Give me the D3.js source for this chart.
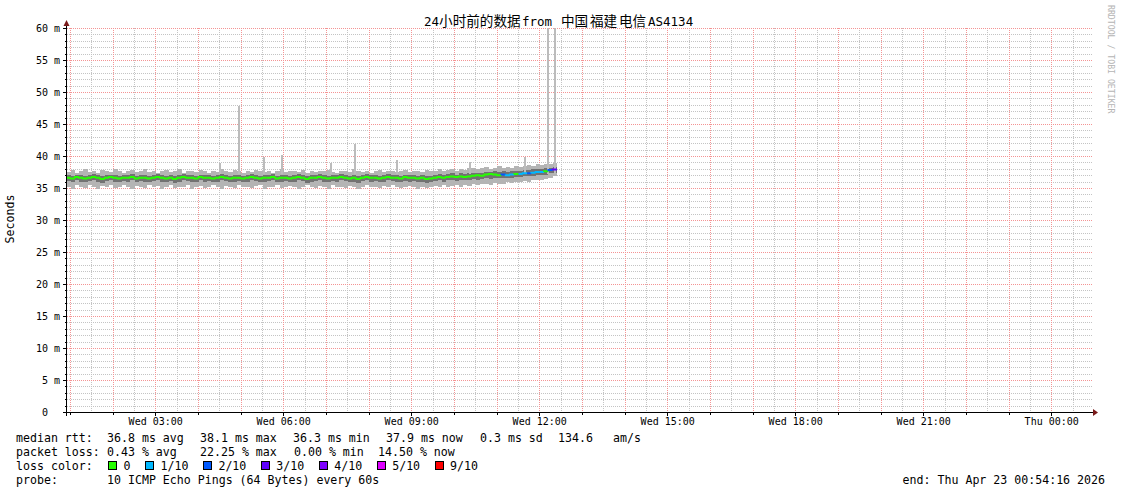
<!DOCTYPE html>
<html><head><meta charset="utf-8">
<script src="https://cdn.jsdelivr.net/npm/d3@7"></script>
<style>body{margin:0;background:#fff}svg{display:block}text{white-space:pre}</style>
</head><body><svg id="c" width="1121" height="494"></svg>
<script>
// ---------- data ----------
const titleParts = ["24小时前的数据", "from", "中国", "福建", "电信", "AS4134"];
const stepMinutes = 6;
const median = [
36.6,36.5,36.7,36.6,36.5,36.6,36.7,36.6,36.4,36.6,36.7,36.6,36.5,36.6,36.6,36.7,36.5,36.6,36.6,36.5,
36.6,36.7,36.6,36.5,36.6,36.4,36.6,36.7,36.6,36.6,36.5,36.7,36.6,36.6,36.5,36.6,36.7,36.6,36.5,36.6,
36.6,36.5,36.6,36.7,36.6,36.5,36.6,36.6,36.7,36.5,36.6,36.6,36.5,36.6,36.7,36.6,36.4,36.6,36.6,36.7,
36.6,36.5,36.6,36.6,36.7,36.6,36.5,36.6,36.4,36.6,36.7,36.6,36.6,36.5,36.6,36.7,36.6,36.6,36.5,36.7,
36.6,36.6,36.5,36.6,36.4,36.5,36.6,36.7,36.6,36.7,36.8,36.7,36.8,36.7,36.8,36.9,37.0,36.9,37.1,37.2,
37.1,37.0,37.1,37.0,37.1,37.2,37.2,37.3,37.3,37.4,37.5,37.5,37.6,37.8,37.9];
const pingLo = [
35.2,34.9,35.4,35.1,35.0,35.5,35.2,34.9,35.3,35.1,35.4,35.0,35.2,35.5,35.1,34.9,35.3,35.2,35.0,35.4,
35.1,35.3,34.9,35.2,35.5,35.0,35.2,35.1,35.4,34.9,35.2,35.3,35.0,35.2,35.4,35.1,34.9,35.3,35.2,35.0,
35.4,35.1,35.2,35.0,35.3,35.5,34.9,35.2,35.1,35.4,35.0,35.2,35.3,35.1,34.9,35.2,35.4,35.1,35.0,35.3,
35.2,34.9,35.4,35.1,35.2,35.0,35.3,35.1,34.9,35.2,35.4,35.1,35.2,35.0,35.3,35.1,35.4,35.2,35.0,35.1,
35.3,35.2,34.9,35.1,35.0,35.2,35.3,35.1,35.4,35.2,35.3,35.5,35.2,35.4,35.3,35.6,35.4,35.6,35.7,35.5,
35.8,35.6,35.7,35.9,35.8,36.0,35.9,36.1,36.0,36.2,36.3,36.2,36.4,36.6,36.8];
const pingHi = [
37.5,37.8,37.4,37.6,37.9,37.5,37.7,37.4,37.8,37.6,37.5,37.9,37.6,37.4,37.7,37.8,37.5,37.6,37.9,37.5,
37.7,37.4,37.6,37.8,37.5,37.6,37.9,37.4,37.6,37.7,37.5,37.8,37.6,37.4,37.7,37.5,37.9,37.6,37.5,37.8,
37.6,37.4,37.7,37.5,37.8,37.6,37.5,37.7,37.4,37.6,37.9,37.5,37.6,37.7,37.5,37.8,37.4,37.6,37.5,37.7,
37.6,37.8,37.5,37.4,37.7,37.6,37.5,37.9,37.6,37.5,37.7,37.4,37.6,37.8,37.5,37.6,37.7,37.5,37.6,37.8,
37.5,37.7,37.6,37.5,37.8,37.6,37.7,37.9,37.6,37.8,37.9,37.7,38.0,37.8,38.1,38.2,37.9,38.1,38.3,38.0,
38.2,38.4,38.1,38.3,38.2,38.5,38.3,38.4,38.6,38.5,38.7,38.6,38.8,38.7,38.9];
const coreLo = [
36.1,35.9,36.2,36.0,35.9,36.1,36.2,36.0,35.8,36.1,36.2,36.0,35.9,36.1,36.0,36.2,35.9,36.1,36.0,35.9,
36.1,36.2,36.0,35.9,36.1,35.8,36.0,36.2,36.1,36.0,35.9,36.2,36.0,36.1,35.9,36.0,36.2,36.1,35.9,36.0,
36.1,35.9,36.0,36.2,36.1,35.9,36.0,36.1,36.2,35.9,36.0,36.1,35.9,36.0,36.2,36.1,35.8,36.0,36.1,36.2,
36.0,35.9,36.1,36.0,36.2,36.1,35.9,36.0,35.8,36.1,36.2,36.0,36.1,35.9,36.0,36.2,36.1,36.0,35.9,36.1,
36.0,36.1,35.9,36.0,35.8,35.9,36.1,36.2,36.0,36.2,36.3,36.1,36.3,36.2,36.3,36.4,36.3,36.4,36.5,36.4,
36.6,36.5,36.6,36.5,36.6,36.7,36.7,36.8,36.8,36.9,37.0,37.0,37.1,37.3,37.4];
const coreHi = [
37.0,36.9,37.1,37.0,36.9,37.0,37.2,37.0,36.8,37.1,37.1,37.0,36.9,37.1,37.0,37.2,36.9,37.0,37.1,36.9,
37.0,37.2,37.0,36.9,37.1,36.8,37.0,37.2,37.0,37.1,36.9,37.1,37.0,37.1,36.9,37.0,37.2,37.0,36.9,37.1,
37.0,36.9,37.1,37.2,37.0,36.9,37.1,37.0,37.2,36.9,37.0,37.1,36.9,37.0,37.2,37.0,36.8,37.1,37.0,37.2,
37.0,36.9,37.1,37.0,37.2,37.1,36.9,37.0,36.8,37.1,37.2,37.0,37.1,36.9,37.0,37.2,37.1,37.0,36.9,37.1,
37.0,37.1,36.9,37.0,36.8,36.9,37.1,37.2,37.0,37.2,37.3,37.1,37.3,37.2,37.3,37.4,37.3,37.4,37.5,37.5,
37.6,37.5,37.6,37.5,37.6,37.7,37.7,37.8,37.8,37.9,38.0,38.0,38.1,38.2,38.3];
const lossTenths = [
0,0,0,0,0,0,0,0,0,0,0,0,0,0,0,0,0,0,0,0,
0,0,0,0,0,0,0,0,0,0,0,0,0,0,0,0,0,0,0,0,
0,0,0,0,0,0,0,0,0,0,0,0,0,0,0,0,0,0,0,0,
0,0,0,0,0,0,0,0,0,0,0,0,0,0,0,0,0,0,0,0,
0,0,0,0,0,0,0,0,0,0,0,0,0,0,0,0,0,0,0,0,
0,0,2,1,1,0,1,1,2,1,1,1,0,2,3];
const spikeMinutes = [215, 242, 277, 302, 372, 405, 464, 567, 644, 676, 686];
const spikeValues  = [38.9, 47.8, 39.9, 40.2, 38.9, 41.9, 39.4, 39.1, 39.9, 60, 60];
const yTickValues = [0,5,10,15,20,25,30,35,40,45,50,55,60];
const lossLabels = ["0","1/10","2/10","3/10","4/10","5/10","9/10"];
const lossKeys   = [0,1,2,3,4,5,9];
const lossColors = ["#26ff00","#00b8ff","#0059ff","#5e00ff","#7e00ff","#dd00ff","#ff0000"];
const rttStats  = ["36.8 ms avg","38.1 ms max","36.3 ms min","37.9 ms now","0.3 ms sd","134.6","am/s"];
const lossStats = ["0.43 % avg","22.25 % max","0.00 % min","14.50 % now"];
const probeText = "10 ICMP Echo Pings (64 Bytes) every 60s";
const endText = "end: Thu Apr 23 00:54:16 2026";

// ---------- drawing ----------
const W = 1121, H = 494;
const svg = d3.select("#c");
const MONO = "'DejaVu Sans Mono', monospace";
const start = new Date(Date.UTC(2026, 3, 22, 0, 54, 16));
const end = new Date(+start + 24 * 3600e3);
const x = d3.scaleUtc().domain([start, end]).range([66.3, 1090.3]);
const y = d3.scaleLinear().domain([0, 60]).range([412, 28]);
const tAt = m => new Date(+start + m * 60e3);
const colorOf = k => lossColors[lossKeys.indexOf(k)];
const px = v => Math.floor(v) + 0.5;

svg.append("rect").attr("width", W).attr("height", H).attr("fill", "#fff");

// grid
const grid = svg.append("g").attr("shape-rendering", "crispEdges");
d3.range(0, 61, 1).filter(v => v % 5 !== 0).forEach(v => {
  grid.append("line").attr("x1", 67).attr("x2", 1093).attr("y1", Math.round(y(v)) + 0.5).attr("y2", Math.round(y(v)) + 0.5)
    .attr("stroke", "#c4c4c4").attr("stroke-dasharray", "1,1");
});
x.ticks(d3.utcMinute.every(30)).filter(d => d.getUTCMinutes() === 30).forEach(d => {
  grid.append("line").attr("x1", px(x(d))).attr("x2", px(x(d))).attr("y1", 28).attr("y2", 412)
    .attr("stroke", "#c4c4c4").attr("stroke-dasharray", "1,1");
});
yTickValues.filter(v => v > 0).forEach(v => {
  grid.append("line").attr("x1", 67).attr("x2", 1093).attr("y1", Math.round(y(v)) + 0.5).attr("y2", Math.round(y(v)) + 0.5)
    .attr("stroke", "#f49494").attr("stroke-dasharray", "1,1");
});
const hourTicks = x.ticks(d3.utcHour.every(1));
hourTicks.forEach(d => {
  grid.append("line").attr("x1", px(x(d))).attr("x2", px(x(d))).attr("y1", 28).attr("y2", 412)
    .attr("stroke", "#f49494").attr("stroke-dasharray", "1,1");
});

// smoke
const smoke = svg.append("g").attr("shape-rendering", "crispEdges");
median.forEach((m, i) => {
  const x0 = x(tAt(i * stepMinutes)), x1 = x(tAt((i + 1) * stepMinutes));
  smoke.append("rect").attr("x", x0).attr("width", x1 - x0)
    .attr("y", y(pingHi[i])).attr("height", y(pingLo[i]) - y(pingHi[i])).attr("fill", "#b4b4b4");
  smoke.append("rect").attr("x", x0).attr("width", x1 - x0)
    .attr("y", y(coreHi[i])).attr("height", y(coreLo[i]) - y(coreHi[i])).attr("fill", "#727272");
});
spikeMinutes.forEach((m, i) => {
  const xs = Math.floor(x(tAt(m)));
  smoke.append("rect").attr("x", xs).attr("width", 2)
    .attr("y", y(spikeValues[i])).attr("height", y(37.2) - y(spikeValues[i])).attr("fill", "#bcbcbc");
});

// median line coloured by loss
const med = svg.append("g");
median.forEach((m, i) => {
  const x0 = x(tAt(i * stepMinutes)), x1 = x(tAt((i + 1) * stepMinutes));
  const yPrev = i > 0 ? y(median[i - 1]) : y(m);
  med.append("path").attr("d", `M${x0},${yPrev}V${y(m)}H${x1}`)
    .attr("fill", "none").attr("stroke", colorOf(lossTenths[i])).attr("stroke-width", 2);
});

// axes
const ax = svg.append("g").attr("shape-rendering", "crispEdges");
ax.append("line").attr("x1", 63).attr("x2", 1093).attr("y1", 412.5).attr("y2", 412.5).attr("stroke", "#000");
ax.append("line").attr("x1", 66.5).attr("x2", 66.5).attr("y1", 416).attr("y2", 24).attr("stroke", "#000");
d3.range(0, 61, 1).forEach(v => {
  const yy = Math.round(y(v)) + 0.5;
  ax.append("line").attr("x1", v % 5 === 0 ? 63 : 65).attr("x2", 66).attr("y1", yy).attr("y2", yy).attr("stroke", "#000");
});
hourTicks.forEach(d => {
  const xx = px(x(d));
  ax.append("line").attr("x1", xx).attr("x2", xx).attr("y1", 413).attr("y2", d.getUTCHours() % 3 === 0 ? 416 : 415).attr("stroke", "#000");
});
svg.append("path").attr("d", "M1093,409L1098,412.5L1093,416Z").attr("fill", "#7a1a1a");
svg.append("path").attr("d", "M63.5,26L66.5,20L69.5,26Z").attr("fill", "#7a1a1a");

// y labels
yTickValues.forEach(v => {
  svg.append("text").attr("x", 60).attr("y", y(v) + 4).attr("text-anchor", "end")
    .attr("font-family", MONO).attr("font-size", "10px").attr("fill", "#000")
    .text(v === 0 ? "0  " : v + " m");
});
// x labels
const fmt = d3.utcFormat("%a %H:%M");
hourTicks.filter(d => d.getUTCHours() % 3 === 0).forEach(d => {
  svg.append("text").attr("x", x(d)).attr("y", 425).attr("text-anchor", "middle")
    .attr("font-family", MONO).attr("font-size", "10px").attr("fill", "#000").text(fmt(d));
});

// title
const titleX = [424, 522, 561, 590, 619, 648];
titleParts.forEach((p, i) => {
  const cjk = /[\u4e00-\u9fff]/.test(p) && !/[A-Za-z]/.test(p);
  const t = svg.append("text").attr("x", titleX[i]).attr("y", 26).attr("fill", "#000")
    .attr("font-family", "'DejaVu Sans Mono', 'Noto Sans CJK SC', monospace").attr("font-size", "12.5px");
  if (i === 0) {
    t.append("tspan").text(p.slice(0, 2));
    t.append("tspan").attr("font-family", "'Noto Sans CJK SC'").attr("font-size", "13.6px").text(p.slice(2));
  } else if (cjk) {
    t.attr("font-family", "'Noto Sans CJK SC'").attr("font-size", "13.6px").text(p);
  } else t.text(p);
});

// axis title
svg.append("text").attr("transform", "translate(14,219) rotate(-90)").attr("text-anchor", "middle")
  .attr("font-family", MONO).attr("font-size", "11.6px").attr("fill", "#000").text("Seconds");
// watermark
svg.append("text").attr("transform", "translate(1108,5) rotate(90)").attr("text-anchor", "start")
  .attr("font-family", MONO).attr("font-size", "8.2px").attr("fill", "#b4b4b4").text("RRDTOOL / TOBI OETIKER");

// legend
const L = (txt, xx, yy, anchor) => svg.append("text").attr("x", xx).attr("y", yy)
  .attr("text-anchor", anchor || "start").attr("font-family", MONO).attr("font-size", "11.6px").attr("fill", "#000").text(txt);
const row = [442, 456, 470, 484];
L("median rtt:", 16, row[0]);
[107, 200, 293, 386, 480, 558, 613].forEach((xx, i) => L(rttStats[i], xx, row[0]));
L("packet loss:", 16, row[1]);
[107, 200, 294, 378].forEach((xx, i) => L(lossStats[i], xx, row[1]));
L("loss color:", 16, row[2]);
let bx = 108.5;
lossLabels.forEach((lab, i) => {
  svg.append("rect").attr("x", bx).attr("y", 461.5).attr("width", 8).attr("height", 8)
    .attr("fill", lossColors[i]).attr("stroke", "#000").attr("stroke-width", 1).attr("shape-rendering", "crispEdges");
  const t = L(lab, bx + 15, row[2]);
  bx = bx + 15 + t.node().getComputedTextLength() + 15;
});
L("probe:", 16, row[3]);
L(probeText, 107, row[3]);
L(endText, 1105, row[3], "end");
</script></body></html>
